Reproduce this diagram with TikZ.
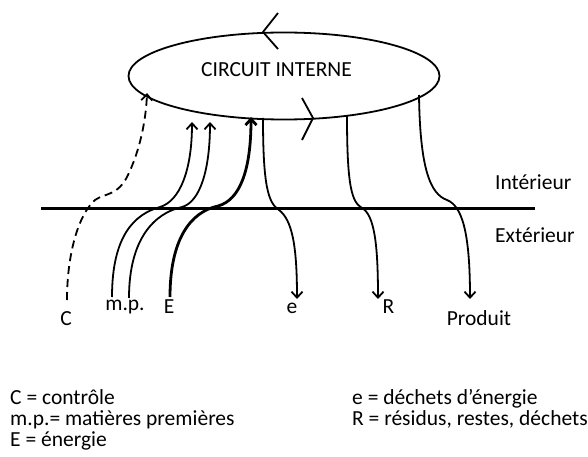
\documentclass[tikz,border=0pt]{standalone}
\usepackage{fontspec}
\setmainfont{Carlito}
\usetikzlibrary{shapes.geometric,arrows.meta}

\begin{document}
\begin{tikzpicture}[x=1pt, y=-1pt, >={Straight Barb[length=6pt,width=11pt]},
        lbl/.style={inner sep=0pt, anchor=base},
        leg/.style={inner sep=0pt, anchor=base west},
        flux/.style={line width=1.8pt}]
        \fontsize{21.5}{26}\selectfont
        \useasboundingbox (0,0) rectangle (588,457);

        % circuit interne
        \node[draw, ellipse, line width=1.8pt, minimum width=311pt, minimum height=87pt] (circuit) at (284,76) {};
        \node[lbl] (titre) at (276.5,77) {CIRCUIT INTERNE};
        \draw[flux] (278,13) -- (263,32) -- (278,49);
        \draw[flux] (302,98) -- (313,118) -- (302,140);

        % frontiere
        \coordinate (gauche) at (41,208);
        \coordinate (droite) at (535,208);
        \draw[line width=3pt] (gauche) -- (droite);
        \node[leg] (interieur) at (495,189) {Intérieur};
        \node[leg] (exterieur) at (495,242) {Extérieur};

        % entrees et sorties
        \node[lbl] (C) at (66,325) {C};
        \node[lbl] (mp) at (125,310) {m.p.};
        \node[lbl] (E) at (169,313) {E};
        \node[lbl] (e) at (292,313) {e};
        \node[lbl] (R) at (388.5,313) {R};
        \node[lbl] (produit) at (479,325) {Produit};

        \coordinate (C-bas) at (67,300);
        \coordinate (C-haut) at (147,93);
        \coordinate (mp1-bas) at (112,297);
        \coordinate (mp1-haut) at (192,122);
        \coordinate (mp2-bas) at (129,298);
        \coordinate (mp2-haut) at (210,122);
        \coordinate (E-bas) at (170,297);
        \coordinate (E-haut) at (251,117);
        \coordinate (e-haut) at (263,118);
        \coordinate (e-bas) at (297,299);
        \coordinate (R-haut) at (347,116);
        \coordinate (R-bas) at (378,299);
        \coordinate (produit-haut) at (419,95);
        \coordinate (produit-bas) at (470,299);

        \draw[->, flux, dash pattern=on 8pt off 5pt] (C-bas) .. controls (67,255) and (78,215) .. (95,200)
            .. controls (105,193) and (118,196) .. (128,175) .. controls (140,150) and (146,120) .. (C-haut);
        \draw[->, flux] (mp1-bas) .. controls (112,235) and (135,214) .. (160,207) .. controls (180,201) and (192,170) .. (mp1-haut);
        \draw[->, flux] (mp2-bas) .. controls (129,238) and (155,213) .. (182,207) .. controls (200,202) and (210,170) .. (mp2-haut);
        \draw[->, line width=2.8pt] (E-bas) .. controls (170,240) and (190,212) .. (218,206) .. controls (240,200) and (251,170) .. (E-haut);
        \draw[->, flux] (e-haut) .. controls (263,185) and (268,203) .. (279,210) .. controls (292,220) and (297,245) .. (e-bas);
        \draw[->, flux] (R-haut) .. controls (347,188) and (352,202) .. (362,208) .. controls (374,215) and (378,242) .. (R-bas);
        \draw[->, flux] (produit-haut) .. controls (420,168) and (430,194) .. (447,200) .. controls (462,206) and (470,232) .. (produit-bas);

        % legende
        \node[leg] (legC) at (10,404) {C = contrôle};
        \node[leg] (legmp) at (10,425) {m.p.= matières premières};
        \node[leg] (legE) at (10,446) {E = énergie};
        \node[leg] (lege) at (352,404) {e = déchets d’énergie};
        \node[leg] (legR) at (352,425) {R = résidus, restes, déchets};
\end{tikzpicture}
\end{document}
